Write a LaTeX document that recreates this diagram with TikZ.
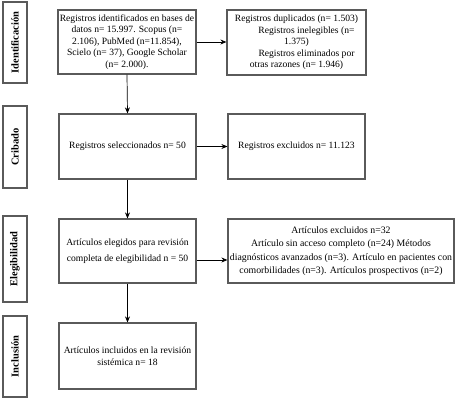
\documentclass[tikz,border=0pt]{standalone}
\usepackage{fontspec}
\setmainfont{Liberation Serif}
\usetikzlibrary{arrows.meta}
\definecolor{boxgray}{HTML}{5A5A5A}
\begin{document}
\begin{tikzpicture}[x=1pt,y=-1pt,
  stagebox/.style={draw=boxgray,line width=1.3pt,minimum width=24pt,inner sep=0pt,font=\fontsize{10.5}{11}\selectfont\bfseries},
  flowbox/.style={draw=boxgray,line width=1.2pt,align=center,inner sep=0pt,font=\fontsize{9.6}{11.5}\selectfont},
  conn/.style={draw=black,line width=0.7pt,-{Stealth[length=6pt,width=5pt]}}]
\useasboundingbox (0,0) rectangle (458,401);
\fill[white] (0,0) rectangle (458,401);
% stage labels
\node[stagebox,minimum height=81pt] (sid) at (15,42.5) {\rotatebox{90}{Identificación}};
\node[stagebox,minimum height=82pt] (scr) at (15,147) {\rotatebox{90}{Cribado}};
\node[stagebox,minimum height=86pt] (sel) at (15,259) {\rotatebox{90}{Elegibilidad}};
\node[stagebox,minimum height=81pt] (sin) at (15,356.5) {\rotatebox{90}{Inclusión}};
% main boxes
\node[flowbox,minimum width=138pt,minimum height=64pt] (b1) at (127,42)
  {Registros identificados en bases de\\datos n= 15.997. Scopus (n=\\2.106), PubMed (n=11.854),\\Scielo (n= 37), Google Scholar\\(n= 2.000).};
\node[flowbox,minimum width=139pt,minimum height=65pt] (r1) at (296.5,42.5)
  {Registros duplicados (n= 1.503)\\\hspace*{20pt}Registros inelegibles (n=\\1.375)\\\hspace*{20pt}Registros eliminados por\\otras razones (n= 1.946)};
\node[flowbox,minimum width=137pt,minimum height=65pt] (b2) at (127.5,146.5)
  {Registros seleccionados n= 50};
\node[flowbox,minimum width=137pt,minimum height=65pt] (r2) at (296.5,146.5)
  {Registros excluidos n= 11.123};
\node[flowbox,minimum width=137pt,minimum height=64pt,font=\fontsize{9.6}{16}\selectfont] (b3) at (127.5,251)
  {Artículos elegidos para revisión\\completa de elegibilidad n = 50};
\node[flowbox,minimum width=226pt,minimum height=64pt,font=\fontsize{9.8}{13.5}\selectfont] (r3) at (341,251)
  {Artículos excluidos n=32\\Artículo sin acceso completo (n=24) Métodos\\diagnósticos avanzados (n=3). Artículo en pacientes con\\comorbilidades (n=3). Artículos prospectivos (n=2)};
\node[flowbox,minimum width=137pt,minimum height=66pt] (b4) at (127.5,356)
  {Artículos incluidos en la revisión\\sistémica n= 18};
% connectors
\draw[conn] (b1.east) -- (r1.west |- b1.east);
\draw[conn] (b2.east) -- (r2.west);
\draw[conn] ([yshift=-9pt]b3.east) -- ([yshift=-9pt]b3.east -| r3.west);
\draw[conn] (b1.south) -- (b2.north);
\draw[conn] (b2.south) -- (b3.north);
\draw[conn] (b3.south) -- (b4.north);
\end{tikzpicture}
\end{document}
